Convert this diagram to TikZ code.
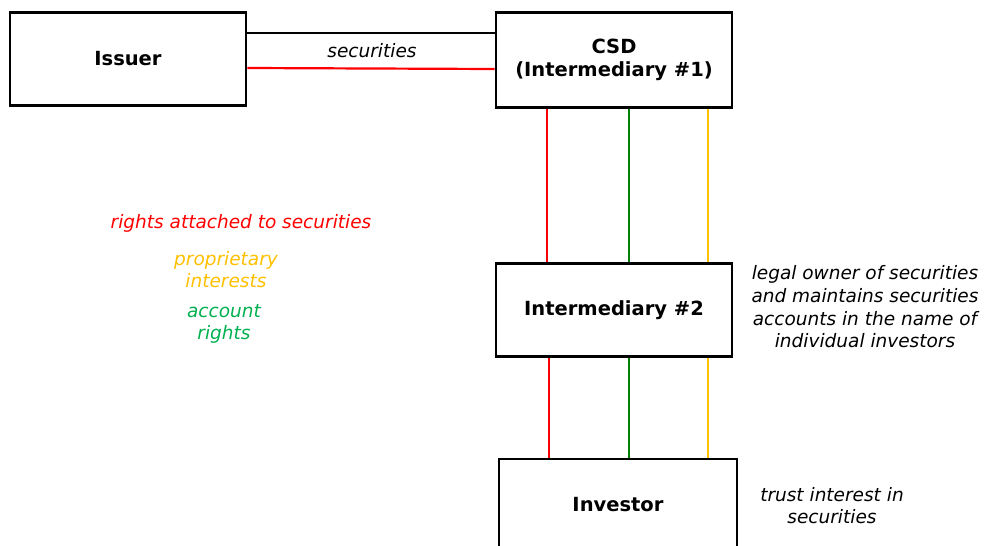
\documentclass[tikz,border=0pt]{standalone}
\usepackage{fontspec}
\setmainfont{DejaVu Sans}
\definecolor{lineyellow}{HTML}{FFC000}
\definecolor{linegreen}{HTML}{008000}
\definecolor{textgreen}{HTML}{00B050}
\tikzset{
  party/.style={draw, line width=2.8pt, minimum width=236pt, minimum height=93pt,
    font=\fontsize{19.5}{22.5}\selectfont\bfseries, align=center},
  note/.style={font=\fontsize{18.5}{22}\selectfont\itshape, align=center},
  flow/.style={line width=2.2pt}
}
\begin{document}
\begin{tikzpicture}[x=1pt,y=-1pt]
      \useasboundingbox (0,0) rectangle (985,546);
      \node[party] (issuer) at (128,59) {Issuer};
      \node[party, minimum height=95pt] (csd) at (614,60) {CSD\\(Intermediary \#1)};
      \node[party] (inter) at (614,310) {Intermediary \#2};
      \node[party, minimum width=238pt, minimum height=92pt] (investor) at (618,505) {Investor};
      % securities between issuer and CSD
      \draw[flow] (issuer.east |- 0,33) -- (csd.west |- 0,33);
      \draw[flow, red] (issuer.east |- 0,68) -- (csd.west |- 0,69);
      \node[note] (sec) at (372,51) {securities};
      % chain down to the investor
      \draw[flow, red]        (csd.south -| 547,0) -- (inter.north -| 547,0);
      \draw[flow, linegreen]  (csd.south -| 629,0) -- (inter.north -| 629,0);
      \draw[flow, lineyellow] (csd.south -| 708,0) -- (inter.north -| 708,0);
      \draw[flow, red]        (inter.south -| 549,0) -- (investor.north -| 549,0);
      \draw[flow, linegreen]  (inter.south -| 629,0) -- (investor.north -| 629,0);
      \draw[flow, lineyellow] (inter.south -| 708,0) -- (investor.north -| 708,0);
      % legend
      \node[note, red] (rights) at (241,223) {rights attached to securities};
      \node[note, lineyellow] (prop) at (226,270) {proprietary\\interests};
      \node[note, textgreen] (acct) at (224,324) {account\\rights};
      % remarks
      \node[note, font=\fontsize{18.5}{22.7}\selectfont\itshape] (legal) at (865,307) {legal owner of securities\\and maintains securities\\accounts in the name of\\individual investors};
      \node[note] (trust) at (832,506) {trust interest in\\securities};
    \end{tikzpicture}
\end{document}
